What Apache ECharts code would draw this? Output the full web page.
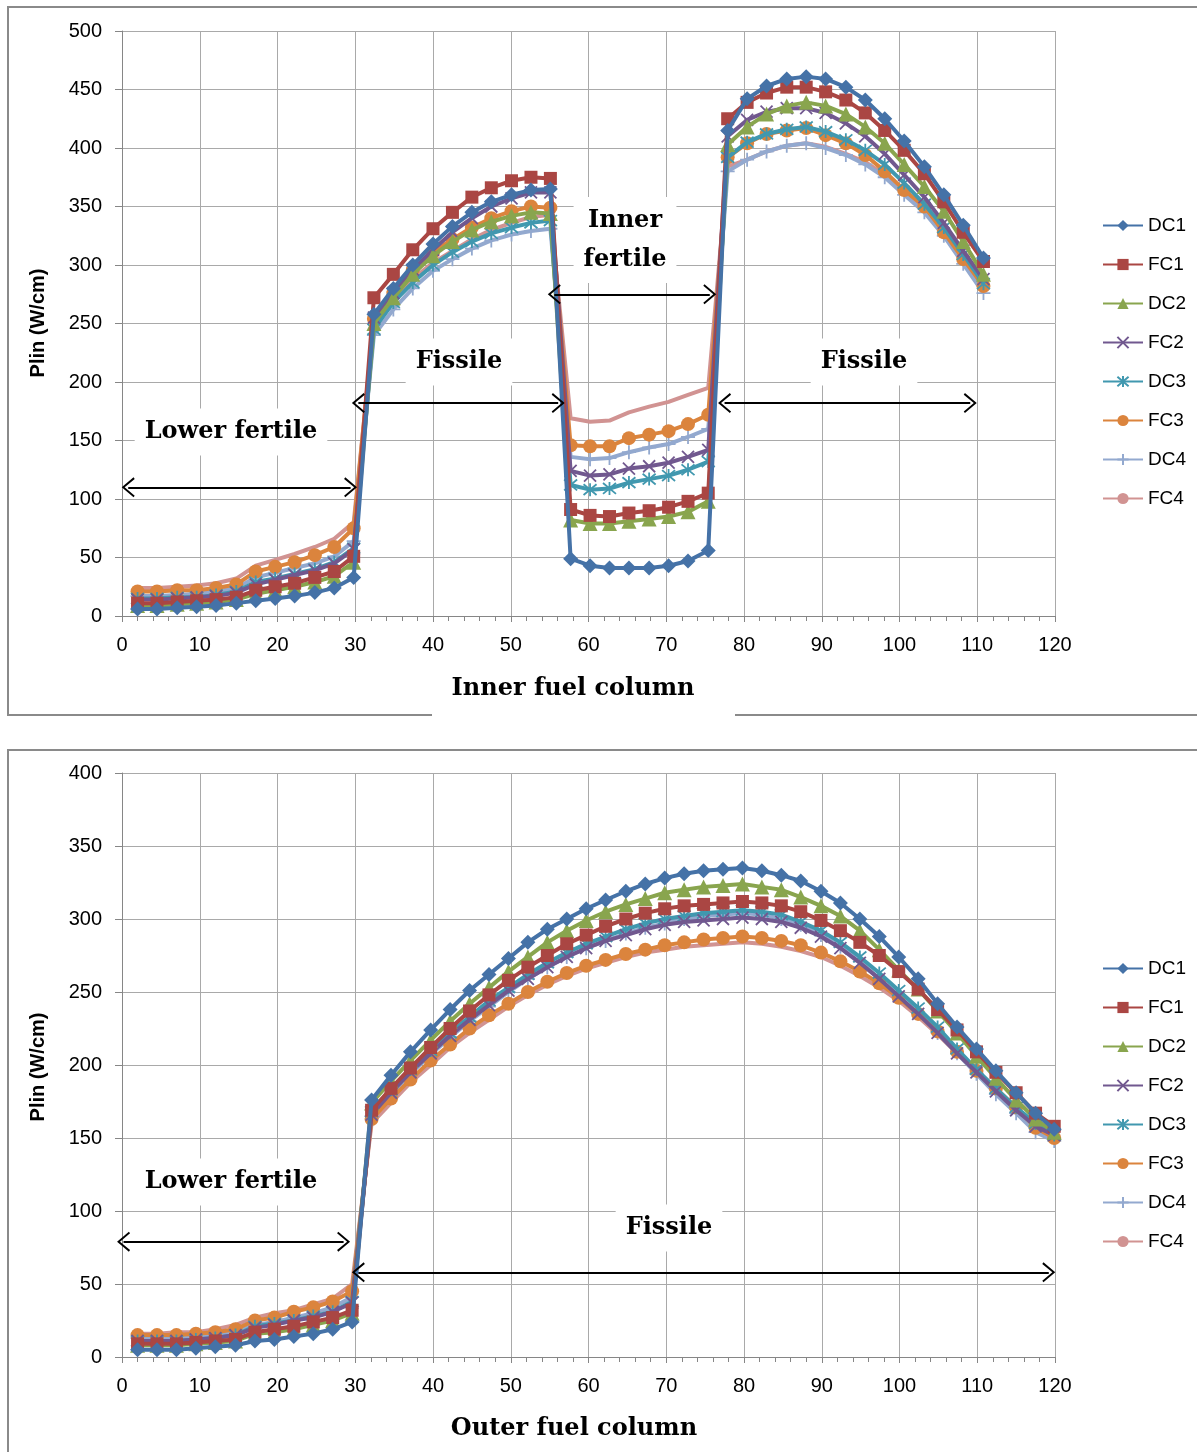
<!DOCTYPE html>
<html>
<head>
<meta charset="utf-8">
<script src="https://cdn.jsdelivr.net/npm/echarts@6/dist/echarts.min.js"></script>
<style>
html, body { margin: 0; padding: 0; background: #fff; }
#main { width: 1197px; height: 1452px; }
</style>
</head>
<body>
<div id="main"></div>
<script>
// axial positions of the calculation points
var xInner = [2.0, 4.5, 7.1, 9.6, 12.1, 14.7, 17.2, 19.7, 22.2, 24.8, 27.3, 29.8,
  32.4, 34.9, 37.4, 40.0, 42.5, 45.0, 47.5, 50.1, 52.6, 55.1,
  57.7, 60.2, 62.7, 65.2, 67.8, 70.3, 72.8, 75.4,
  77.9, 80.4, 82.9, 85.5, 88.0, 90.5, 93.1, 95.6, 98.1, 100.6, 103.2, 105.7, 108.2, 110.8];
var xOuter = [2.0, 4.5, 7.0, 9.5, 12.0, 14.6, 17.1, 19.6, 22.1, 24.6, 27.1, 29.6,
  32.1, 34.6, 37.1, 39.7, 42.2, 44.7, 47.2, 49.7, 52.2, 54.7,
  57.2, 59.7, 62.2, 64.8, 67.3, 69.8, 72.3, 74.8, 77.3, 79.8,
  82.3, 84.8, 87.3, 89.9, 92.4, 94.9, 97.4, 99.9, 102.4, 104.9,
  107.4, 109.9, 112.4, 115.0, 117.5, 119.9];

var seriesNames = ['DC1', 'FC1', 'DC2', 'FC2', 'DC3', 'FC3', 'DC4', 'FC4'];

// inner fuel column, Plin (W/cm)
var innerDC1 = [6,6,7,8,9,11,13,15,17,20,24,33, 258,280,300,318,333,345,354,360,364,365, 49,43,41,41,41,43,47,56, 415,442,453,459,461,459,452,441,425,406,384,360,334,306];
var innerFC1 = [11,11,12,13,14,16,22,25,28,33,38,51, 272,292,313,331,345,358,366,372,375,374, 91,86,85,88,90,93,98,105, 425,439,447,452,452,448,441,430,415,398,378,354,328,303];
var innerDC2 = [9,9,10,11,12,14,19,22,25,29,34,46, 250,272,292,308,320,330,337,342,345,344, 82,79,79,81,83,85,89,98, 403,418,429,436,439,436,429,418,404,386,367,346,320,292];
var innerFC2 = [14,14,15,16,17,20,27,31,35,39,45,57, 255,276,296,313,328,340,350,357,362,362, 124,120,121,126,128,131,136,142, 410,424,431,434,434,430,421,410,395,377,358,336,312,288];
var innerDC3 = [15,15,16,16,18,21,29,32,36,40,46,58, 245,268,285,300,311,320,327,332,336,338, 112,108,109,114,117,120,125,132, 392,405,412,416,418,414,407,398,386,370,352,332,309,284];
var innerFC3 = [21,21,22,22,24,27,38,42,46,52,59,75, 254,276,296,311,322,332,340,346,350,349, 146,145,145,152,155,158,164,172, 392,404,412,415,417,411,404,394,380,364,350,328,305,282];
var innerDC4 = [17,17,18,19,21,24,33,37,41,45,51,64, 240,262,280,295,305,314,321,326,329,331, 136,134,135,140,144,147,153,160, 380,390,397,402,404,400,394,386,375,360,345,325,301,276];
var innerFC4 = [24,24,25,26,28,32,43,48,53,59,66,80, 250,270,288,302,312,322,330,336,341,343, 169,166,167,174,179,183,189,195, 384,390,397,402,404,401,395,388,377,362,348,326,302,279];

// outer fuel column, Plin (W/cm)
var outerDC1 = [5,5,5,6,7,8,11,12,14,16,19,24, 176,193,209,224,238,251,262,273,284,293, 300,307,313,319,324,328,331,333,334,335, 333,330,326,319,311,300,288,274,259,242, 226,211,196,181,167,156];
var outerFC1 = [9,9,9,10,11,12,17,19,21,24,27,32, 169,184,198,212,225,237,248,258,267,275, 283,289,295,300,304,307,309,310,311,312, 311,309,305,299,292,284,275,264,252,238, 224,209,195,181,167,158];
var outerDC2 = [8,8,8,9,10,11,16,17,19,22,25,30, 174,189,203,217,230,242,253,264,274,284, 292,299,305,310,314,318,320,322,323,324, 322,320,315,309,302,292,279,265,252,237, 222,206,191,176,163,154];
var outerFC2 = [11,11,11,12,13,15,20,22,25,27,31,37, 166,181,195,208,220,231,241,251,259,267, 274,280,285,289,293,296,298,299,300,301, 300,298,294,288,280,270,259,247,235,222, 208,195,182,169,158,152];
var outerDC3 = [11,11,11,12,13,15,21,23,25,28,31,38, 168,183,197,210,222,233,244,253,262,270, 277,283,288,293,297,300,302,304,305,306, 305,303,298,292,284,274,263,251,239,226, 211,197,184,171,160,152];
var outerFC3 = [15,15,15,16,17,19,25,27,31,34,38,45, 163,177,190,203,214,225,234,242,250,257, 263,268,272,276,279,282,284,286,287,288, 287,285,282,277,271,264,256,246,235,223, 209,196,184,171,157,150];
var outerDC4 = [13,13,13,14,15,17,22,24,27,30,34,41, 165,180,194,207,219,230,240,250,259,267, 274,280,285,290,294,297,300,302,303,304, 303,300,296,289,281,271,259,248,236,222, 208,194,180,167,154,148];
var outerFC4 = [16,16,17,17,19,22,27,30,32,36,40,50, 160,174,188,200,212,222,231,240,248,255, 261,266,270,274,277,279,281,282,283,284, 283,281,278,274,268,261,253,244,233,221, 208,195,182,169,156,148];

var innerValues = [innerDC1, innerFC1, innerDC2, innerFC2, innerDC3, innerFC3, innerDC4, innerFC4];
var outerValues = [outerDC1, outerFC1, outerDC2, outerFC2, outerDC3, outerFC3, outerDC4, outerFC4];

var colors = ['#4572A7', '#AA4643', '#89A54E', '#71588F', '#4198AF', '#DB843D', '#93A9CF', '#D19392'];
var crossPath = 'path://M0,0L10,10M10,0L0,10';
var starPath = 'path://M0,0L10,10M10,0L0,10M5,-1L5,11';
var plusPath = 'path://M5,0L5,10M0,5L10,5';
var symbols = ['diamond', 'rect', 'triangle', crossPath, starPath, 'circle', plusPath, 'none'];
var symbolSizes = [15, 13, 15, 12, 13, 14, 14, 0];
var stroked = [false, false, false, true, true, false, true, false];

var chev = 'path://M10,0L20,12L18.4,13.2L10,3L1.6,13.2L0,12Z';
var sansFont = '"Liberation Sans", Arial, sans-serif';
var serifFont = '"DejaVu Serif", serif';

function pairs(xs, ys) {
  var out = [];
  for (var i = 0; i < ys.length; i++) out.push([xs[i], ys[i]]);
  return out;
}

function buildSeries(xs, values, idx) {
  return values.map(function (vals, k) {
    return {
      name: seriesNames[k],
      type: 'line',
      xAxisIndex: idx,
      yAxisIndex: idx,
      data: pairs(xs, vals),
      symbol: symbols[k],
      symbolSize: symbolSizes[k],
      showSymbol: symbols[k] !== 'none',
      lineStyle: { color: colors[k], width: 4 },
      itemStyle: stroked[k]
        ? { color: colors[k], borderColor: colors[k], borderWidth: 1.8 }
        : { color: colors[k], borderWidth: 0 },
      z: 2 + (8 - k) * 0.01
    };
  });
}

function arrowSeries(idx, lines) {
  return {
    type: 'line',
    xAxisIndex: idx,
    yAxisIndex: idx,
    data: [],
    clip: false,
    silent: true,
    markLine: {
      silent: true,
      animation: false,
      symbol: [chev, chev],
      symbolSize: [20, 13],
      lineStyle: { color: '#000', width: 2, type: 'solid' },
      label: { show: false },
      data: lines.map(function (l) {
        return [{ coord: [l[0], l[2]] }, { coord: [l[1], l[2]] }];
      })
    }
  };
}

function xAxisDef(idx) {
  return {
    type: 'value', gridIndex: idx, min: 0, max: 120, interval: 10,
    axisLine: { show: true, onZero: false, lineStyle: { color: '#868686', width: 1 } },
    axisTick: { show: true, length: 6, lineStyle: { color: '#868686' } },
    minorTick: { show: true, splitNumber: 5, length: 5, lineStyle: { color: '#868686' } },
    splitLine: { show: true, lineStyle: { color: '#a9a9a9', width: 1 } },
    axisLabel: { fontSize: 20, color: '#000', margin: 19, fontFamily: sansFont }
  };
}

function yAxisDef(idx, max) {
  return {
    type: 'value', gridIndex: idx, min: 0, max: max, interval: 50,
    axisLine: { show: true, lineStyle: { color: '#868686', width: 1 } },
    axisTick: { show: true, length: 7, lineStyle: { color: '#868686' } },
    splitLine: { show: true, lineStyle: { color: '#a9a9a9', width: 1 } },
    axisLabel: { fontSize: 20, color: '#000', margin: 20, fontFamily: sansFont }
  };
}

function legendDef(top) {
  return {
    orient: 'vertical', left: 1097, top: top,
    itemWidth: 40, itemHeight: 14, itemGap: 20,
    data: seriesNames,
    textStyle: { fontSize: 19, color: '#000', fontFamily: sansFont },
    selectedMode: false
  };
}

function label(text, x, y, size) {
  return {
    type: 'text', x: x, y: y, z: 20,
    style: {
      text: text, font: 'bold ' + size + 'px ' + serifFont, fill: '#000',
      align: 'center', verticalAlign: 'middle',
      backgroundColor: '#fff', padding: [4, 10], lineHeight: 39
    }
  };
}

function axisTitle(y) {
  return {
    type: 'text', x: 38, y: y, rotation: Math.PI / 2, z: 20,
    style: { text: 'Plin (W/cm)', font: 'bold 20px ' + sansFont, fill: '#000',
      align: 'center', verticalAlign: 'middle' }
  };
}

var chart = echarts.init(document.getElementById('main'), null, { renderer: 'canvas' });

var option = {
  animation: false,
  backgroundColor: '#fff',
  grid: [
    { left: 122, top: 31, width: 933, height: 585 },
    { left: 122, top: 773, width: 933, height: 584 }
  ],
  xAxis: [xAxisDef(0), xAxisDef(1)],
  yAxis: [yAxisDef(0, 500), yAxisDef(1, 400)],
  legend: [legendDef(211), legendDef(954)],
  series: buildSeries(xInner, innerValues, 0)
    .concat(buildSeries(xOuter, outerValues, 1))
    .concat([
      arrowSeries(0, [[0.8, 29.4, 110], [30.4, 56.1, 182], [55.6, 75.6, 275], [77.5, 109.1, 182]]),
      arrowSeries(1, [[0.2, 28.5, 79], [30.4, 119.2, 58]])
    ]),
  graphic: [
    { type: 'rect', z: 0, shape: { x: 8, y: 7, width: 1200, height: 708 },
      style: { fill: 'none', stroke: '#8a8a8a', lineWidth: 2 } },
    { type: 'rect', z: 0, shape: { x: 8, y: 750, width: 1200, height: 720 },
      style: { fill: 'none', stroke: '#8a8a8a', lineWidth: 2 } },
    { type: 'rect', z: 5, shape: { x: 432, y: 668, width: 303, height: 52 },
      style: { fill: '#fff' } },
    { type: 'rect', z: 5, shape: { x: 432, y: 1408, width: 303, height: 44 },
      style: { fill: '#fff' } },
    label('Inner fuel column', 573, 689, 24),
    label('Outer fuel column', 574, 1429, 24),
    axisTitle(323),
    axisTitle(1067),
    label('Lower fertile', 231, 432, 24),
    label('Fissile', 459, 362, 24),
    label('Inner\nfertile', 625, 240, 24),
    label('Fissile', 864, 362, 24),
    label('Lower fertile', 231, 1182, 24),
    label('Fissile', 669, 1228, 24)
  ]
};

chart.setOption(option);
</script>
</body>
</html>
